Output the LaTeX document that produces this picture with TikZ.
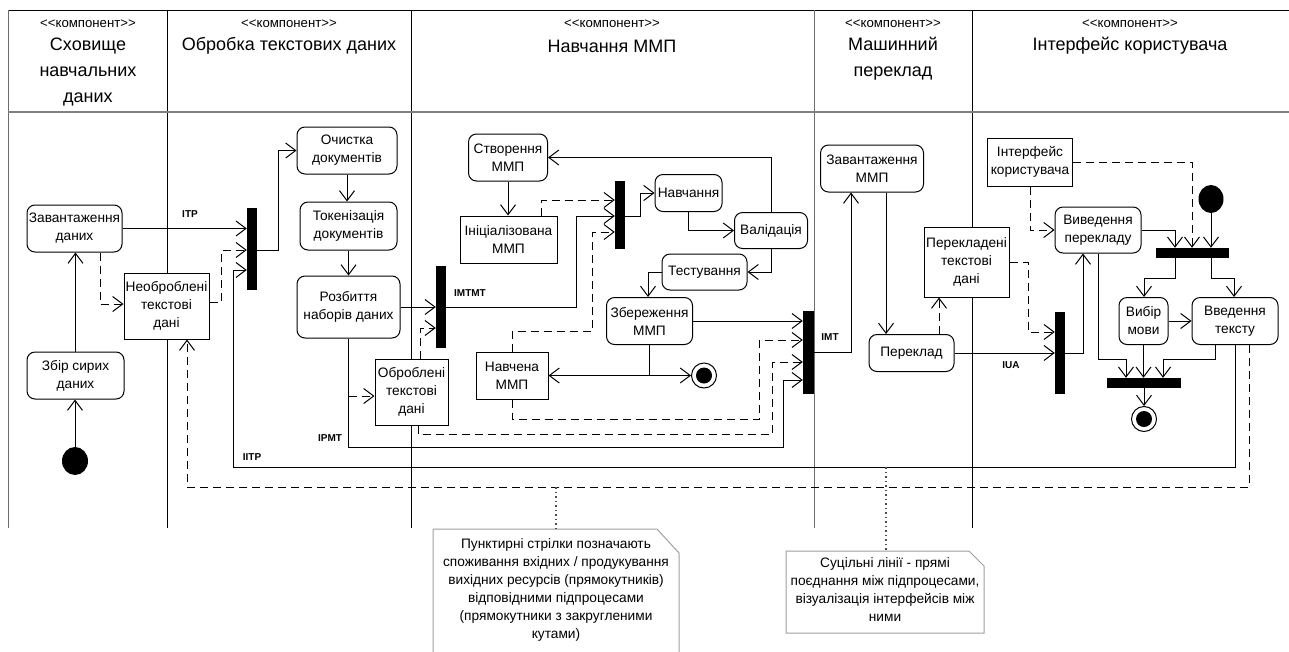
\documentclass[tikz,border=0pt]{standalone}
\usepackage{fontspec}
\setmainfont{Liberation Sans}[Ligatures=TeXOff]
\usetikzlibrary{arrows.meta,shapes.geometric}

\tikzset{
  sz/.style 2 args={minimum width=#1pt, minimum height=#2pt},
  base/.style={font=\fontsize{13.7}{18}\selectfont, align=center, inner sep=0pt,
               fill=white, draw, line width=1pt},
  act/.style={base, rounded corners=8pt},
  obj/.style={base},
  bar/.style={fill=black, draw=none, inner sep=0pt},
  startnode/.style={ellipse, fill=black, inner sep=0pt, minimum width=26pt, minimum height=28pt},
  finalnode/.style={circle, draw, fill=white, line width=1pt, inner sep=0pt, minimum size=25pt,
                    path picture={\fill[black] (path picture bounding box.center) circle (8pt);}},
  flow/.style={line width=1pt, -{Straight Barb[length=10pt,width=15pt]}},
  data/.style={flow, dash pattern=on 8pt off 5pt},
  lbl/.style={font=\bfseries\fontsize{10}{12}\selectfont, inner sep=0pt},
  stereo/.style={font=\fontsize{13.2}{15}\selectfont, inner sep=0pt},
  lanetitle/.style={font=\fontsize{18}{26}\selectfont, align=center, inner sep=0pt},
  notebox/.style={draw=gray!75, fill=white, line width=1pt},
  notetext/.style={font=\fontsize{13.7}{18}\selectfont, align=center, inner sep=0pt},
  noteline/.style={draw=gray!60!black, line width=1.1pt, dash pattern=on 1.5pt off 3pt},
  lanedark/.style={draw=black, line width=1pt},
  lanegray/.style={draw=gray!85!black, line width=1pt},
}

\begin{document}
\begin{tikzpicture}[x=1pt,y=-1pt]
\useasboundingbox (0,0) rectangle (1289,651);

% ---------- swimlanes ----------
\draw[lanedark] (8,10) -- (1289,10);
\draw[lanegray] (8,10) -- (8,528);
\draw[lanedark] (167,10) -- (167,528);
\draw[lanedark] (411,10) -- (411,528);
\draw[lanegray] (814,10) -- (814,528);
\draw[lanedark] (972,10) -- (972,528);
\draw[draw=gray, line width=2pt] (8,112) -- (1289,112);

\node[stereo] (s1) at (88,24) {<<компонент>>};
\node[stereo] (s2) at (289,24) {<<компонент>>};
\node[stereo] (s3) at (612,24) {<<компонент>>};
\node[stereo] (s4) at (893,24) {<<компонент>>};
\node[stereo] (s5) at (1130,24) {<<компонент>>};
\node[lanetitle] (t1) at (88,72) {Сховище\\навчальних\\даних};
\node[lanetitle] (t2) at (289,46) {Обробка текстових даних};
\node[lanetitle] (t3) at (612,46) {Навчання ММП};
\node[lanetitle] (t4) at (893,59) {Машинний\\переклад};
\node[lanetitle] (t5) at (1130,46) {Інтерфейс користувача};

% ---------- nodes ----------
\node[act, sz={95}{47}] (zd) at (74.5,228.5) {Завантаження\\даних};
\node[act, sz={97}{47}] (zs) at (75.5,375.5) {Збір сирих\\даних};
\node[startnode] (st1) at (75,461) {};
\node[obj, sz={85}{66}] (nob) at (166.5,306) {Необроблені\\текстові\\дані};
\node[bar, sz={10}{82}] (bar1) at (252,249) {};

\node[act, sz={100}{47}] (oc) at (347,150.5) {Очистка\\документів};
\node[act, sz={97}{48}] (tok) at (348.5,226) {Токенізація\\документів};
\node[act, sz={103}{62}] (roz) at (348.5,307) {Розбиття\\наборів даних};
\node[bar, sz={10}{82}] (bar2) at (441,307) {};
\node[obj, sz={73}{66}] (obr) at (411.5,392) {Оброблені\\текстові\\дані};

\node[act, sz={79}{47}] (sv) at (508,157.5) {Створення\\ММП};
\node[obj, sz={97}{47}] (ini) at (508.5,239.5) {Ініціалізована\\ММП};
\node[bar, sz={10}{68}] (bar4) at (620,215) {};
\node[act, sz={67}{37}] (nav) at (688.5,193) {Навчання};
\node[act, sz={73}{36}] (val) at (771,230.5) {Валідація};
\node[act, sz={85}{36}] (test) at (704.5,272) {Тестування};
\node[act, sz={86}{47}] (zb) at (649.5,321) {Збереження\\ММП};
\node[obj, sz={72}{47}] (nvm) at (512,375.5) {Навчена\\ММП};
\node[finalnode] (fin1) at (704,375.5) {};
\node[bar, sz={11}{83}] (bar3) at (808.5,352.5) {};

\node[act, sz={103}{47}] (zm) at (872,168.5) {Завантаження\\ММП};
\node[act, sz={85}{37}] (per) at (911.5,353) {Переклад};
\node[obj, sz={85}{70}] (ptd) at (966.5,262) {Перекладені\\текстові\\дані};
\node[bar, sz={10}{82}] (bar5) at (1060,353) {};

\node[obj, sz={85}{48}] (ik) at (1030,162) {Інтерфейс\\користувача};
\node[act, sz={86}{46}] (vp) at (1098,230) {Виведення\\перекладу};
\node[startnode, minimum width=25pt] (st2) at (1211,199) {};
\node[bar, sz={73}{10}] (bar6) at (1192.5,253) {};
\node[act, sz={49}{47}] (vm) at (1143.5,321) {Вибір\\мови};
\node[act, sz={86}{47}] (vt) at (1235,321) {Введення\\тексту};
\node[bar, sz={74}{10}] (bar7) at (1144,383) {};
\node[finalnode] (fin2) at (1144,419) {};

% ---------- connector labels ----------
\node[lbl] (lITP) at (190,214) {ITP};
\node[lbl] (lIITP) at (252,457) {IITP};
\node[lbl] (lIPMT) at (330,438) {IPMT};
\node[lbl] (lIMTMT) at (470,293) {IMTMT};
\node[lbl] (lIMT) at (830,337) {IMT};
\node[lbl] (lIUA) at (1011,365) {IUA};

% ---------- data storage lane ----------
\draw[flow] (st1.north) -- (st1.north |- zs.south);
\draw[flow] (zs.north) -- (zs.north |- zd.south);
\draw[flow] (zd.east) -- (zd.east -| bar1.west);
\draw[data] (zd.south -| 100,0) -- (100,304) -- (nob.west |- 0,304);
\draw[data] (nob.east |- 0,302) -- (221,302) -- (221,250) -- (bar1.west |- 0,250);
\draw[flow] (vt.south -| 1235,0) -- (1235,467) -- (233,467) -- (233,270) -- (bar1.west |- 0,270);
\draw[data] (vt.south -| 1249,0) -- (1249,487) -- (187,487) -- (nob.south -| 187,0);

% ---------- text processing lane ----------
\draw[flow] (bar1.east |- 0,250) -- (278,250) -- (278,0 |- oc.west) -- (oc.west);
\draw[flow] (oc.south) -- (oc.south |- tok.north);
\draw[flow] (tok.south) -- (tok.south |- roz.north);
\draw[flow] (roz.east) -- (roz.east -| bar2.west);
\draw[flow] (roz.south) -- (roz.south |- 0,447) -- (783,447) -- (783,380) -- (bar3.west |- 0,380);
\draw[data] (roz.south |- 0,396) -- (obr.west |- 0,396);
\draw[data] (obr.north -| 420,0) -- (420,328) -- (bar2.west |- 0,328);
\draw[data] (obr.south -| 418,0) -- (418,434) -- (772,434) -- (772,362) -- (bar3.west |- 0,362);

% ---------- model training lane ----------
\draw[flow] (bar2.east) -- (576,307) -- (576,216) -- (bar4.west |- 0,216);
\draw[flow] (sv.south) -- (sv.south |- ini.north);
\draw[data] (ini.north -| 541,0) -- (541,200) -- (bar4.west |- 0,200);
\draw[data] (nvm.north) -- (512,331) -- (592,331) -- (592,232) -- (bar4.west |- 0,232);
\draw[flow] (bar4.east |- 0,216) -- (640,216) -- (640,0 |- nav.west) -- (nav.west);
\draw[flow] (nav.south) -- (nav.south |- val.west) -- (val.west);
\draw[flow] (val.north) -- (val.north |- sv.east) -- (sv.east);
\draw[flow] (val.south) -- (val.south |- test.east) -- (test.east);
\draw[flow] (test.west) -- (test.west -| 648,0) -- (zb.north -| 648,0);
\draw[flow] (zb.east) -- (zb.east -| bar3.west);
\coordinate (zbj) at (zb.south |- nvm.east);
\draw[line width=1pt] (zb.south) -- (zbj);
\draw[flow] (zbj) -- (nvm.east);
\draw[flow] (zbj) -- (fin1.west);
\draw[data] (nvm.south) -- (512,419) -- (759,419) -- (759,340) -- (bar3.west |- 0,340);

% ---------- translation lane ----------
\draw[flow] (bar3.east |- 0,352) -- (851,352) -- (zm.south -| 851,0);
\draw[flow] (zm.south -| 886,0) -- (per.north -| 886,0);
\draw[data] (per.north -| 939,0) -- (ptd.south -| 939,0);
\draw[flow] (per.east) -- (per.east -| bar5.west);
\draw[data] (ptd.east) -- (1028,262) -- (1028,332) -- (bar5.west |- 0,332);

% ---------- user interface lane ----------
\draw[flow] (bar5.east) -- (1083,353) -- (vp.south -| 1083,0);
\draw[data] (ik.east) -- (1192,162) -- (bar6.north -| 1192,0);
\draw[data] (ik.south) -- (ik.south |- vp.west) -- (vp.west);
\draw[flow] (vp.east) -- (1175,230) -- (bar6.north -| 1175,0);
\draw[flow] (st2.south) -- (st2.south |- bar6.north);
\draw[flow] (bar6.south -| 1175,0) -- (1175,278) -- (1144,278) -- (vm.north -| 1144,0);
\draw[flow] (bar6.south -| 1211,0) -- (1211,278) -- (1234,278) -- (vt.north -| 1234,0);
\draw[flow] (vm.east) -- (vt.west);
\draw[flow] (vp.south) -- (1098,359) -- (1126,359) -- (bar7.north -| 1126,0);
\draw[flow] (vm.south) -- (vm.south |- bar7.north);
\draw[flow] (vt.south -| 1215,0) -- (1215,359) -- (1163,359) -- (bar7.north -| 1163,0);
\draw[flow] (bar7.south) -- (fin2.north);

% ---------- notes ----------
\path[notebox] (433,652) -- (433,529) -- (657,529) -- (679,553) -- (679,652);
\node[notetext] (n1) at (556,590) {Пунктирні стрілки позначають\\споживання вхідних / продукування\\вихідних ресурсів (прямокутників)\\відповідними підпроцесами\\(прямокутники з закругленими\\кутами)};
\coordinate (n1top) at (556,529);
\draw[noteline] (556,487) -- (n1top);

\path[notebox] (786,551) -- (969,551) -- (984,566) -- (984,633) -- (786,633) -- cycle;
\node[notetext] (n2) at (885,590) {Суцільні лінії - прямі\\поєднання між підпроцесами,\\візуалізація інтерфейсів між\\ними};
\coordinate (n2top) at (886,551);
\draw[noteline] (886,467) -- (n2top);
\end{tikzpicture}
\end{document}
